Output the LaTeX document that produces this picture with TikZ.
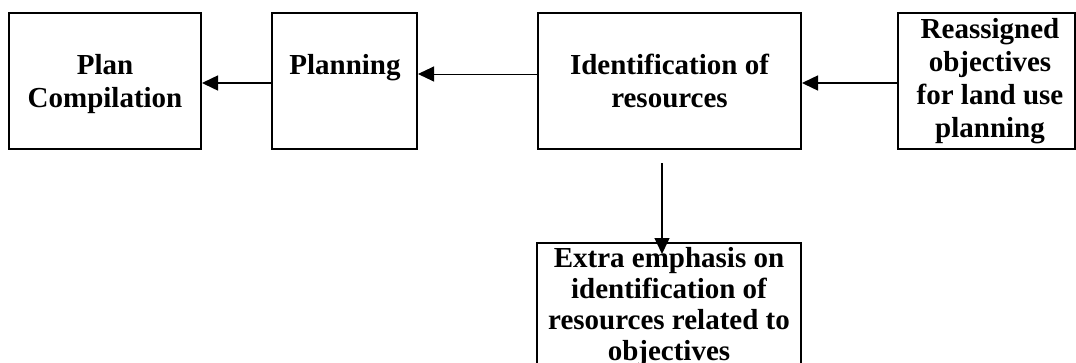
\documentclass[tikz,border=0pt]{standalone}
\usepackage{fontspec}
\setmainfont{Liberation Serif}
\usetikzlibrary{arrows.meta}
\begin{document}
\begin{tikzpicture}[x=1pt,y=-1pt,
  box/.style={draw=black, line width=2pt, inner sep=0pt, minimum height=136pt},
  lbl/.style={inner sep=0pt, align=center, font=\fontsize{29}{33}\selectfont\bfseries},
  arr/.style={draw=black, line width=1.5pt, -{Triangle[length=16pt,width=15pt]}}]
\useasboundingbox (0,0) rectangle (1076,362);
\clip (0,0) rectangle (1076,362);
% boxes
\node[box, minimum width=192pt] (b1) at (105,81) {};
\node[box, minimum width=145pt] (b2) at (344.5,81) {};
\node[box, minimum width=263pt] (b3) at (669.5,81) {};
\node[box, minimum width=177pt] (b4) at (986.5,81) {};
\node[box, minimum width=264pt, minimum height=150pt] (b5) at (669,318) {};
% texts
\node[lbl] (t1) at (105,84) {Plan\\Compilation};
\node[lbl] (t2) at (345,67.2) {Planning};
\node[lbl] (t3) at (669.5,80.5) {Identification of\\resources};
\node[lbl] (t4) at (990,81.5) {Reassigned\\objectives\\for land use\\planning};
\node[lbl, anchor=north, font=\fontsize{29}{31}\selectfont\bfseries] (t5) at (669,247.5) {Extra emphasis on\\identification of\\resources related to\\objectives};
% connectors
\draw[arr] ([yshift=-2pt]b2.west) -- ([yshift=-2pt]b1.east);
\draw[arr, line width=1pt] ([yshift=7pt]b3.west) -- ([yshift=7pt]b2.east);
\draw[arr] ([yshift=-2pt]b4.west) -- ([yshift=-2pt]b3.east);
\draw[arr] ([xshift=-7.5pt,yshift=-13pt]b3.south) -- ([xshift=-7pt,yshift=-12pt]b5.north);
\end{tikzpicture}
\end{document}
